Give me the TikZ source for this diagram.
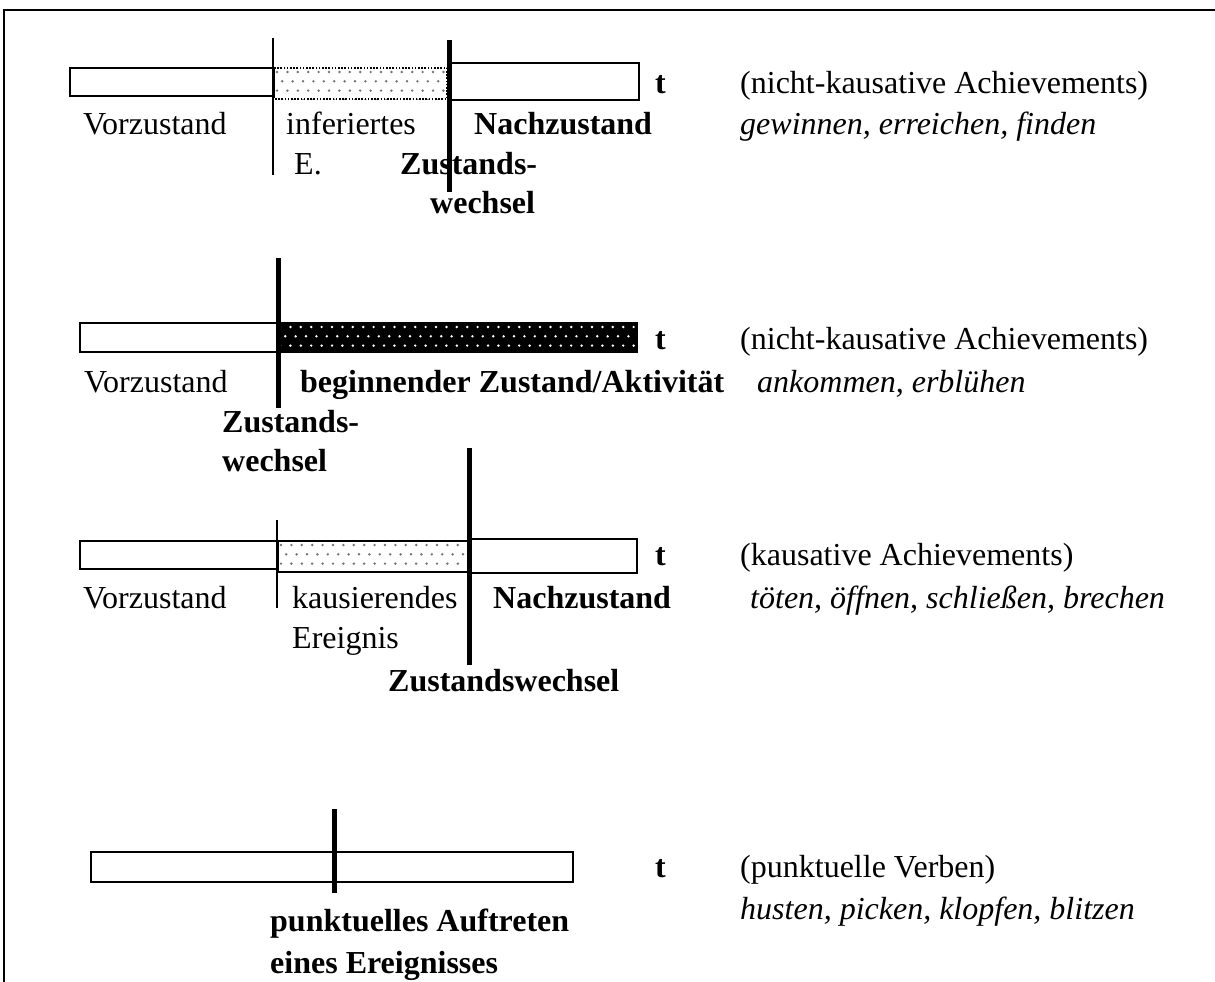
\documentclass[tikz,border=0pt]{standalone}
\usepackage{fontspec}
\setmainfont{Liberation Serif}
\begin{document}
\begin{tikzpicture}[x=1pt,y=-1pt,
  txt/.style={inner sep=0pt,anchor=base west,font=\fontsize{32}{38}\selectfont},
  bld/.style={txt,font=\fontsize{32}{38}\selectfont\bfseries},
  itl/.style={txt,font=\fontsize{32}{38}\selectfont\itshape},
  seg/.style={draw=black,line width=1.6pt,fill=white},
  thinbar/.style={line width=1.4pt},
  thickbar/.style={line width=5pt}]
\useasboundingbox (0,0) rectangle (1215,982);

% dotted fill inside a rectangle: x1,y1,x2,y2,colour
\newcommand{\dotgrid}[5]{%
  \begin{scope}
    \clip (#1,#2) rectangle (#3,#4);
    \foreach \j in {0,...,4}{
      \foreach \i in {0,...,40}{
        \fill[#5] ({#1+3+\i*10.4+mod(\j,2)*5.2},{#2+4+\j*9.3}) circle (1.35);
      }
    }
  \end{scope}}

% frame
\draw[line width=1.5pt] (1215,10) -- (4,10) -- (4,982);

% ---- row 1: non-causative achievements
\draw[seg] (70,68) rectangle (274,96);
\dotgrid{274}{68}{447}{99}{black!55}
\draw[line width=1.8pt,dash pattern=on 1.6pt off 1.6pt] (274,68) rectangle (447,99);
\draw[seg] (451,63) rectangle (639,100);
\draw[thinbar] (273,38) -- (273,175);
\node[bld] (t1) at (655,93) {t};
\node[txt] (a1) at (740,93) {(nicht-kausative Achievements)};
\node[itl] (b1) at (740,134) {gewinnen, erreichen, finden};
\node[txt] (v1) at (83,134) {Vorzustand};
\node[txt] (i1) at (286,134) {inferiertes};
\node[txt] (e1) at (294,174) {E.};
\node[bld] (n1) at (474,134) {Nachzustand};
\node[bld] (z1) at (400,174) {Zustands-};
\node[bld] (w1) at (430,213) {wechsel};
\draw[thickbar] (449,40) -- (449,192);

% ---- row 2: ingressive
\draw[seg] (80,323) rectangle (277,352);
\fill[black] (277,323) rectangle (637,352);
\dotgrid{277}{323}{637}{352}{white}
\draw[line width=1.6pt] (277,323) rectangle (637,352);
\node[bld] (t2) at (655,349) {t};
\node[txt] (a2) at (740,349) {(nicht-kausative Achievements)};
\node[itl] (b2) at (757,392) {ankommen, erblühen};
\node[txt] (v2) at (84,392) {Vorzustand};
\node[bld] (g2) at (300,392) {beginnender Zustand/Aktivität};
\node[bld] (z2) at (222,432) {Zustands-};
\node[bld] (w2) at (222,471) {wechsel};
\draw[thickbar] (278,258) -- (278,408);

% ---- row 3: causative achievements
\draw[seg] (80,541) rectangle (277,569);
\draw[seg] (278,541) rectangle (468,572);
\dotgrid{278}{541}{468}{572}{black!55}
\draw[line width=1.6pt] (278,541) rectangle (468,572);
\draw[seg] (470,539) rectangle (637,573);
\draw[thinbar] (277,520) -- (277,608);
\node[bld] (t3) at (655,565) {t};
\node[txt] (a3) at (740,565) {(kausative Achievements)};
\node[itl] (b3) at (750,608) {töten, öffnen, schließen, brechen};
\node[txt] (v3) at (83,608) {Vorzustand};
\node[txt] (k3) at (292,608) {kausierendes};
\node[txt] (r3) at (292,648) {Ereignis};
\node[bld] (n3) at (493,608) {Nachzustand};
\node[bld] (z3) at (388,691) {Zustandswechsel};
\draw[thickbar] (469,448) -- (469,665);

% ---- row 4: punctual verbs
\draw[seg] (91,852) rectangle (573,882);
\node[bld] (t4) at (655,877) {t};
\node[txt] (a4) at (740,877) {(punktuelle Verben)};
\node[itl] (b4) at (740,919) {husten, picken, klopfen, blitzen};
\node[bld] (p4) at (270,931) {punktuelles Auftreten};
\node[bld] (q4) at (270,973) {eines Ereignisses};
\draw[thickbar] (334,809) -- (334,893);
\end{tikzpicture}
\end{document}
